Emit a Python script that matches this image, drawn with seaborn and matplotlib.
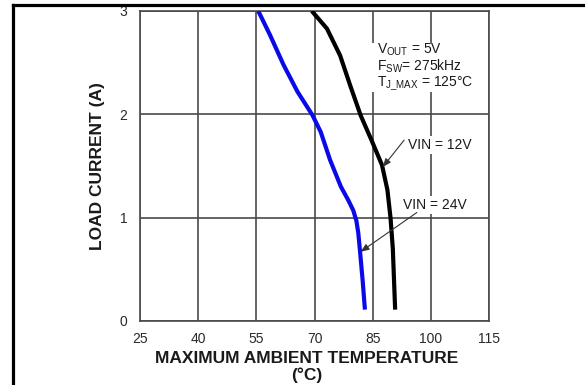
import matplotlib
matplotlib.use("Agg")
import matplotlib.pyplot as plt
from matplotlib.lines import Line2D
from matplotlib.patches import Rectangle
import seaborn as sns
import pandas as pd

# ---- data ----
temp_24 = [55.5, 58.5, 62.0, 65.6, 69.5, 71.6, 74.0, 76.8, 78.7, 80.0, 80.8, 81.3, 81.7, 82.4, 83.0]
cur_24 = [3.0, 2.77, 2.48, 2.22, 1.99, 1.83, 1.56, 1.30, 1.17, 1.07, 0.97, 0.85, 0.69, 0.40, 0.11]
temp_12 = [69.3, 73.2, 76.6, 79.2, 81.9, 84.7, 87.4, 88.8, 89.6, 90.2, 90.5, 90.8]
cur_12 = [3.0, 2.83, 2.57, 2.28, 1.99, 1.75, 1.51, 1.27, 1.0, 0.7, 0.4, 0.11]
x_ticks = [25, 40, 55, 70, 85, 100, 115]
y_ticks = [0, 1, 2, 3]
series_names = ["VIN = 24V", "VIN = 12V"]
cond_lines = [r"V$_{\rm OUT}$ = 5V", r"F$_{\rm SW}$= 275kHz", r"T$_{\rm J\_MAX}$ = 125°C"]

sns.set_style("white")
plt.rcParams["font.family"] = ["Liberation Sans", "DejaVu Sans"]
plt.rcParams["mathtext.fontset"] = "custom"
plt.rcParams["mathtext.rm"] = "Liberation Sans"
plt.rcParams["mathtext.it"] = "Liberation Sans:italic"
plt.rcParams["mathtext.bf"] = "Liberation Sans:bold"

fig = plt.figure(figsize=(5.85, 3.85), dpi=100)
ax = fig.add_axes([140 / 585, 1 - 321 / 385, 349 / 585, 310 / 385])

df24 = pd.DataFrame({"temp": temp_24, "cur": cur_24})
df12 = pd.DataFrame({"temp": temp_12, "cur": cur_12})
sns.lineplot(data=df24, x="temp", y="cur", sort=False, estimator=None, ax=ax,
             color="#0a0ae8", lw=3.0, solid_joinstyle="round", solid_capstyle="butt", zorder=4)
sns.lineplot(data=df12, x="temp", y="cur", sort=False, estimator=None, ax=ax,
             color="black", lw=3.0, solid_joinstyle="round", solid_capstyle="butt", zorder=4)

ax.set_xlim(25, 115)
ax.set_ylim(0, 3)
ax.set_xticks(x_ticks)
ax.set_yticks(y_ticks)
ax.set_xticklabels([str(v) for v in x_ticks])
ax.set_yticklabels([str(v) for v in y_ticks])
ax.grid(True, color="#4a4a4a", lw=1.2)
ax.set_axisbelow(True)
for s in ax.spines.values():
    s.set_visible(True)
    s.set_color("#4a4a4a")
    s.set_linewidth(1.2)
ax.tick_params(axis="both", length=0, labelsize=10, colors="#2a2a2a")
ax.tick_params(axis="x", pad=8)
ax.tick_params(axis="y", pad=9)

ax.set_xlabel("MAXIMUM AMBIENT TEMPERATURE\n(°C)", fontsize=12.5, fontweight="bold",
              color="#1a1a1a", linespacing=1.1)
ax.xaxis.set_label_coords(0.4785, -0.148)
ax.xaxis.label.set_va("center")
ax.set_ylabel("LOAD CURRENT (A)", fontsize=12.5, fontweight="bold", color="#1a1a1a")
ax.yaxis.set_label_coords(-0.123, 0.5)
ax.yaxis.label.set_va("center")

# white panel behind the condition text block
ax.add_patch(Rectangle((84.6, 2.22), 26.3, 0.47, facecolor="white", edgecolor="none", zorder=2))
ax.text(86.1, 2.455, "\n".join(cond_lines), fontsize=10, color="#1a1a1a", ha="left",
        va="center", linespacing=0.95, zorder=3)

bb = dict(boxstyle="square,pad=0.15", fc="white", ec="none")
ax.text(94.1, 1.70, series_names[1], fontsize=10, color="#1a1a1a", ha="left", va="center",
        bbox=bb, zorder=3)
ax.annotate("", xy=(87.6, 1.49), xytext=(93.1, 1.75),
            arrowprops=dict(arrowstyle="-|>,head_length=0.5,head_width=0.2", color="#333333",
                            lw=0.8, shrinkA=0, shrinkB=0), zorder=5)
ax.text(92.8, 1.12, series_names[0], fontsize=10, color="#1a1a1a", ha="left", va="center",
        bbox=bb, zorder=3)
ax.annotate("", xy=(81.9, 0.67), xytext=(96.4, 1.05),
            arrowprops=dict(arrowstyle="-|>,head_length=0.5,head_width=0.2", color="#333333",
                            lw=0.8, shrinkA=0, shrinkB=0), zorder=5)

# outer frame (left and top edges)
fig.add_artist(Line2D([13 / 585, 13 / 585], [0, 1 - 5 / 385], transform=fig.transFigure,
                      color="black", lw=2.3, solid_capstyle="projecting"))
fig.add_artist(Line2D([13 / 585, 1], [1 - 5 / 385, 1 - 5 / 385], transform=fig.transFigure,
                      color="black", lw=2.3, solid_capstyle="projecting"))

fig.savefig("out.png", dpi=100)
